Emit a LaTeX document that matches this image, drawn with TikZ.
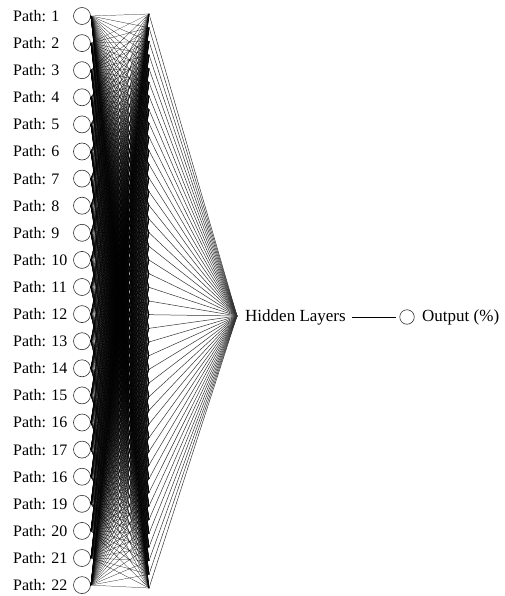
\documentclass[tikz,border=0pt]{standalone}
\usepackage{fontspec}
\setmainfont{Liberation Serif}
\usetikzlibrary{positioning}

\begin{document}
\begin{tikzpicture}[x=1pt,y=-1pt]
\tikzstyle{every node}+=[inner sep=0pt]
\tikzstyle{neuron}=[draw=black!80,circle,minimum size=17pt,line width=0.6pt]
\tikzstyle{lbl}=[font=\fontsize{16}{18}\selectfont]
\tikzstyle{bigl}=[font=\fontsize{17}{19}\selectfont]
\useasboundingbox (0,0) rectangle (504,596);
% input paths
\foreach \t [count=\i] in {1,2,3,4,5,6,7,8,9,10,11,12,13,14,15,16,17,16,19,20,21,22} {
  \node[neuron] (in\i) at (82,{16+(\i-1)*27.1}) {};
  \node[lbl,anchor=west] (p\i) at (13,{16+(\i-1)*27.1}) {Path: \t};
}
% hidden column
\foreach \j in {1,...,43}
  \coordinate (h\j) at (149,{14+(\j-1)*13.667});
\coordinate (hid) at (237,316);
\foreach \i in {1,...,22}
  \foreach \j in {1,...,43}
    \draw[line width=0.22pt] (in\i.east) -- (h\j);
\foreach \j in {1,...,43}
  \draw[line width=0.5pt,black!80] (h\j) -- (hid);
% output
\node[bigl,anchor=west] (hl) at (245,317) {Hidden Layers};
\node[neuron,minimum size=14.5pt] (out) at (407,317) {};
\node[bigl,anchor=west] (ol) at (422,317) {Output (\%)};
\draw[line width=0.6pt] ([xshift=6pt]hl.east) -- ([xshift=-3pt]out.west);
\end{tikzpicture}
\end{document}
